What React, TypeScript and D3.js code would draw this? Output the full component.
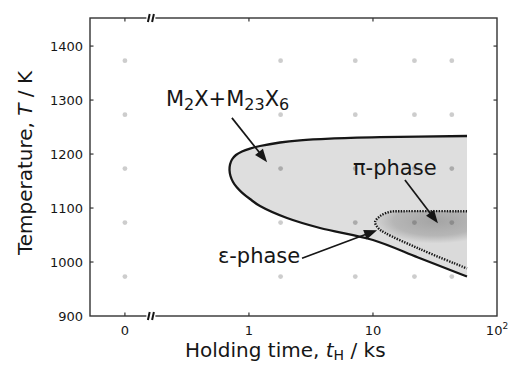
import React from 'react';
import * as d3 from 'd3';

// ---- data ----
const xTickValues = [0.1, 1, 10, 100]; // 0.1 stands for the "0" (as-received) position
const xTickLabels = ['0', '1', '10', '10'];
const yTickValues = [900, 1000, 1100, 1200, 1300, 1400];

const sampleTimes = [0.1, 1.8, 7.2, 21.6, 43.2]; // ks (0.1 = 0 ks)
const sampleTemps = [973, 1073, 1173, 1273, 1373]; // K

// C-curve for M2X+M23X6 (t in ks, T in K)
const outerBoundary: [number, number][] = [
  [57.3, 1233.4], [11.4, 1231.2], [4.50, 1228.6], [2.58, 1225.4], [1.78, 1221.4], [1.228, 1214.9],
  [1.02, 1210.2], [0.879, 1204.7], [0.786, 1198.2], [0.730, 1189.9], [0.704, 1180.6],
  [0.697, 1170.4], [0.710, 1159.3], [0.744, 1148.2], [0.801, 1138.0], [0.879, 1128.7],
  [1.02, 1116.7], [1.228, 1103.7], [2.027, 1081.5], [3.74, 1063.0], [10.0, 1040.8],
  [23.1, 1008.4], [53.2, 975.9], [57.3, 973.2],
];

// dotted C-curve for pi-phase
const piBoundary: [number, number][] = [
  [57.3, 1094], [16.5, 1094], [13.7, 1093], [11.4, 1085], [10.4, 1074],
  [11.0, 1063], [12.5, 1054], [23.9, 1024], [53.2, 991], [57.3, 988],
];

const arrowFrom: [number, number][] = [[0.729, 1267], [2.68, 1007], [18.1, 1152]];
const arrowTo: [number, number][] = [[1.40, 1185], [10.8, 1059], [33.4, 1072]];

const labelM2X: [number, number] = [0.214, 1289];
const labelEps: [number, number] = [0.562, 998];
const labelPi: [number, number] = [6.9, 1161];

// centre of the darker pi-phase shading
const piCore: [number, number] = [32, 1076];

const breakAt = 0.162;

const W = 511, H = 365;
const L = 90, R = 497, T = 18, B = 316;

export default function App() {
  const x = d3.scaleLog().domain([0.0523, 100]).range([L, R]);
  const y = d3.scaleLinear().domain([900, 1452]).range([B, T]);

  const pts = (arr: [number, number][]) => arr.map(([t, k]) => [x(t), y(k)] as [number, number]);
  const line = d3.line().curve(d3.curveCatmullRom.alpha(0.5));
  const outerPts = pts(outerBoundary);
  const piPts = pts(piBoundary);
  const outerPath = line(outerPts) as string;
  const piPath = line(piPts) as string;

  const font = '"DejaVu Sans", sans-serif';
  const ink = '#161616';

  const dots: { cx: number; cy: number; fill: string }[] = [];
  sampleTimes.forEach((t) => sampleTemps.forEach((k) => {
    const p: [number, number] = [x(t), y(k)];
    let fill = '#cdcdcd';
    if (d3.polygonContains(piPts, p)) fill = '#8c8c8c';
    else if (d3.polygonContains(outerPts, p)) fill = '#ababab';
    dots.push({ cx: p[0], cy: p[1], fill });
  }));

  const arrows = arrowFrom.map((f, i) => {
    const x1 = x(f[0]), y1 = y(f[1]);
    const x2 = x(arrowTo[i][0]), y2 = y(arrowTo[i][1]);
    const dx = x2 - x1, dy = y2 - y1;
    const len = Math.hypot(dx, dy);
    const ux = dx / len, uy = dy / len;
    const hl = 13, hw = 5;
    const bx = x2 - ux * hl, by = y2 - uy * hl;
    const head = `${x2},${y2} ${bx - uy * hw},${by + ux * hw} ${bx + uy * hw},${by - ux * hw}`;
    return { x1, y1, bx: x2 - ux * (hl - 2), by: y2 - uy * (hl - 2), head };
  });

  const bx = x(breakAt);
  const breakMark = (yy: number, key: string) => (
    <g key={key}>
      <rect x={bx - 4.5} y={yy - 3} width={9} height={6} fill="#fff" />
      <line x1={bx - 3} y1={yy + 4} x2={bx - 1.2} y2={yy - 4} stroke={ink} strokeWidth={2} />
      <line x1={bx + 1.2} y1={yy + 4} x2={bx + 3} y2={yy - 4} stroke={ink} strokeWidth={2} />
    </g>
  );

  const cx = x(piCore[0]), cy = y(piCore[1]);

  return (
    <svg width={W} height={H} style={{ position: 'absolute', left: 0, top: 0, background: '#fff' }}>
      <defs>
        <radialGradient id="piGrad" gradientUnits="userSpaceOnUse" cx={cx} cy={cy} r={50}
          gradientTransform={`translate(${cx},${cy}) scale(1.3,0.45) translate(${-cx},${-cy})`}>
          <stop offset="0" stopColor="#a4a4a4" />
          <stop offset="0.65" stopColor="#b6b6b6" />
          <stop offset="1" stopColor="#dadada" />
        </radialGradient>
        <clipPath id="piClip">
          <path d={piPath + 'Z'} />
        </clipPath>
      </defs>
      <rect x={0} y={0} width={W} height={H} fill="#fff" />

      {/* phase regions */}
      <path d={outerPath + 'Z'} fill="#dedede" stroke="none" />
      <g clipPath="url(#piClip)">
        <rect x={L} y={T} width={R - L} height={B - T} fill="url(#piGrad)" />
      </g>

      {/* sample points */}
      {dots.map((d, i) => (
        <circle key={i} cx={d.cx} cy={d.cy} r={2.4} fill={d.fill} />
      ))}

      {/* boundaries */}
      <path d={outerPath} fill="none" stroke={ink} strokeWidth={2.3} />
      <path d={piPath} fill="none" stroke={ink} strokeWidth={2.4} strokeDasharray="1.4 1.3" />

      {/* frame */}
      <rect x={L} y={T} width={R - L} height={B - T} fill="none" stroke="#333" strokeWidth={1.4} />

      {/* ticks */}
      {yTickValues.filter((v) => v > 900).map((v) => (
        <g key={'yt' + v}>
          <line x1={L} x2={L + 3.5} y1={y(v)} y2={y(v)} stroke="#333" strokeWidth={1.2} />
          <line x1={R - 3.5} x2={R} y1={y(v)} y2={y(v)} stroke="#333" strokeWidth={1.2} />
        </g>
      ))}
      {xTickValues.filter((v) => v < 100).map((v) => (
        <g key={'xt' + v}>
          <line x1={x(v)} x2={x(v)} y1={B} y2={B - 3.5} stroke="#333" strokeWidth={1.2} />
          <line x1={x(v)} x2={x(v)} y1={T} y2={T + 3.5} stroke="#333" strokeWidth={1.2} />
        </g>
      ))}
      {breakMark(T, 'bt')}
      {breakMark(B, 'bb')}

      {/* tick labels */}
      {yTickValues.map((v) => (
        <text key={'yl' + v} x={83} y={y(v)} dy="0.36em" textAnchor="end" fontFamily={font} fontSize={13} fill={ink}>
          {v}
        </text>
      ))}
      {xTickValues.map((v, i) => (
        <text key={'xl' + v} x={x(v)} y={335} textAnchor="middle" fontFamily={font} fontSize={13} fill={ink}>
          {xTickLabels[i]}
          {i === xTickValues.length - 1 && <tspan fontSize={9} dy={-6}>2</tspan>}
        </text>
      ))}

      {/* axis titles */}
      <text x={185} y={357} fontFamily={font} fontSize={20} fill={ink}>
        Holding time, <tspan fontStyle="italic">t</tspan>
        <tspan fontSize={14} dy={3}>H</tspan>
        <tspan dy={-3}> / ks</tspan>
      </text>
      <text transform={`translate(32,163) rotate(-90)`} textAnchor="middle" fontFamily={font} fontSize={20} fill={ink}>
        Temperature, <tspan fontStyle="italic">T</tspan> / K
      </text>

      {/* annotations */}
      <text x={x(labelM2X[0])} y={y(labelM2X[1])} fontFamily={font} fontSize={21} fill={ink}>
        M<tspan fontSize={16} dy={4}>2</tspan>
        <tspan dy={-4}>X+M</tspan>
        <tspan fontSize={16} dy={4}>23</tspan>
        <tspan dy={-4}>X</tspan>
        <tspan fontSize={16} dy={4}>6</tspan>
      </text>
      <text x={x(labelEps[0])} y={y(labelEps[1])} fontFamily={font} fontSize={21} fill={ink}>ε-phase</text>
      <text x={x(labelPi[0])} y={y(labelPi[1])} fontFamily={font} fontSize={21} fill={ink}>π-phase</text>

      {arrows.map((a, i) => (
        <g key={'ar' + i}>
          <line x1={a.x1} y1={a.y1} x2={a.bx} y2={a.by} stroke={ink} strokeWidth={1.7} />
          <polygon points={a.head} fill={ink} />
        </g>
      ))}
    </svg>
  );
}
